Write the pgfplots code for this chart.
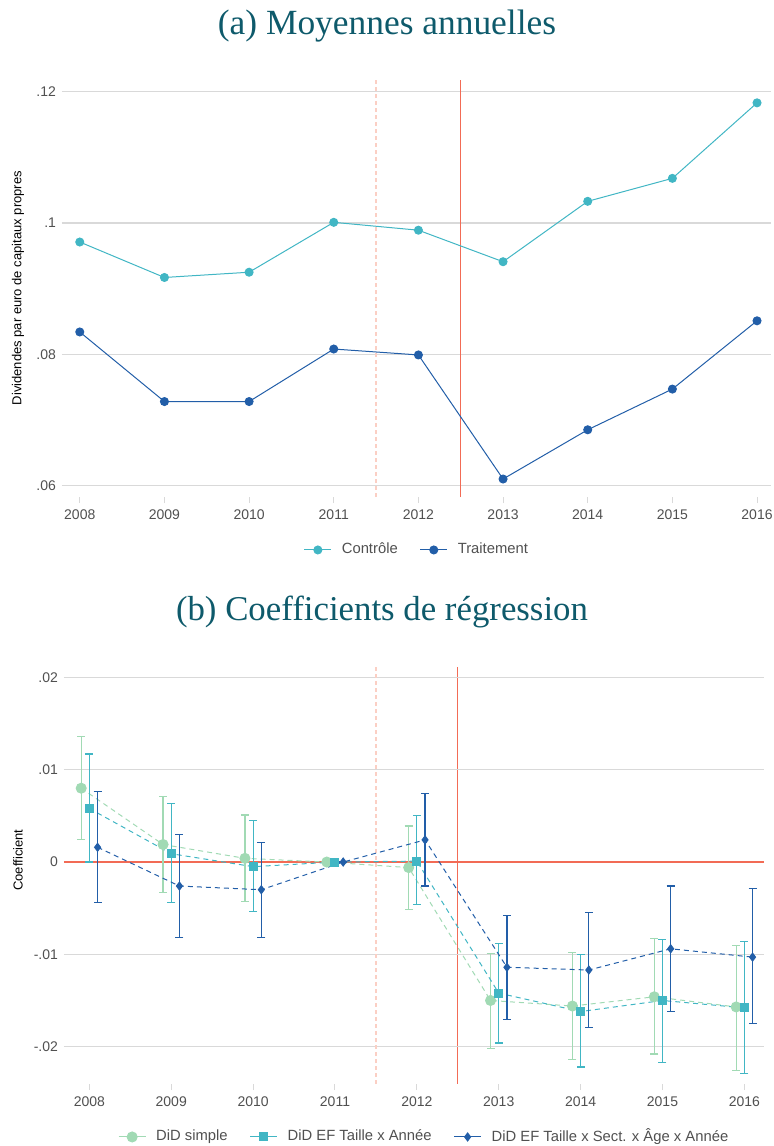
\documentclass[border=0pt]{standalone}
\usepackage{fontspec}
\setsansfont{Liberation Sans}
\newfontfamily\titlefont{Liberation Serif}
\usepackage{pgfplots}
\usepackage{pgfplotstable}
\pgfplotsset{compat=1.18}

\definecolor{ctrl}{HTML}{41B6C4}
\definecolor{treat}{HTML}{225EA8}
\definecolor{simple}{HTML}{A1DAB4}
\definecolor{ticklab}{HTML}{505050}
\definecolor{titlecol}{HTML}{0E5A6B}
\definecolor{vred}{HTML}{F26B55}
\definecolor{vredb}{HTML}{F36C56}
\definecolor{vpink}{HTML}{FBCFC4}
\definecolor{gridc}{HTML}{D9D9D9}

% panel (a): yearly means
\pgfplotstableread{
year ctrl treat
2008 0.0971 0.0834
2009 0.0917 0.0728
2010 0.0925 0.0728
2011 0.1001 0.0808
2012 0.0989 0.0799
2013 0.0941 0.0610
2014 0.1033 0.0685
2015 0.1068 0.0747
2016 0.1183 0.0851
}\topdata

% panel (b): coefficients, with confidence bounds
\pgfplotstableread{
x y hi lo
2007.9 0.0080 0.0136 0.0024
2008.9 0.0019 0.0071 -0.0033
2009.9 0.0004 0.0051 -0.0043
2010.9 0.0000 0.0000 0.0000
2011.9 -0.0006 0.0039 -0.0051
2012.9 -0.0150 -0.0099 -0.0202
2013.9 -0.0156 -0.0098 -0.0214
2014.9 -0.0146 -0.0083 -0.0208
2015.9 -0.0157 -0.0090 -0.0226
}\simpledata

\pgfplotstableread{
x y hi lo
2008 0.0058 0.0117 0.0000
2009 0.0009 0.0063 -0.0044
2010 -0.0005 0.0045 -0.0054
2011 0.0000 0.0000 0.0000
2012 0.0001 0.0050 -0.0046
2013 -0.0142 -0.0088 -0.0196
2014 -0.0162 -0.0100 -0.0222
2015 -0.0150 -0.0084 -0.0217
2016 -0.0158 -0.0086 -0.0229
}\tailledata

\pgfplotstableread{
x y hi lo
2008.1 0.0016 0.0076 -0.0044
2009.1 -0.0026 0.0030 -0.0082
2010.1 -0.0030 0.0021 -0.0082
2011.1 0.0000 0.0000 0.0000
2012.1 0.0024 0.0074 -0.0026
2013.1 -0.0114 -0.0058 -0.0171
2014.1 -0.0117 -0.0055 -0.0179
2015.1 -0.0094 -0.0026 -0.0162
2016.1 -0.0103 -0.0029 -0.0175
}\fulldata

\pgfplotsset{
  panel/.style={
    scale only axis,
    anchor=south west,
    axis x line*=bottom, axis y line*=left,
    axis line style={draw=none},
    ymajorgrids,
    grid style={gridc, line width=0.75pt},
    xtick={2008,2009,2010,2011,2012,2013,2014,2015,2016},
    xticklabels={2008,2009,2010,2011,2012,2013,2014,2015,2016},
    xtick style={gridc, line width=0.5pt},
    ytick style={draw=none},
    tick align=outside,
    major tick length=3pt,
    scaled y ticks=false,
    tick label style={font=\sffamily\fontsize{7}{8}\selectfont, text=ticklab},
    yticklabel style={xshift=3.5pt},
    ylabel style={font=\sffamily\fontsize{6.5}{8}\selectfont, anchor=center},
    legend style={draw=none, fill=none, anchor=center,
      font=\sffamily\fontsize{7.4}{8}\selectfont, text=ticklab,
      legend columns=-1,
      /tikz/every odd column/.append style={column sep=3pt},
      /tikz/every even column/.append style={column sep=9pt}},
    legend image code/.code={
      \draw[#1, solid, mark repeat=2, mark phase=2]
        plot coordinates {(0pt,0pt) (6.75pt,0pt) (13.5pt,0pt)};
    },
  },
  coef/.style={#1, line width=0.5pt, dash pattern=on 2.5pt off 2pt,
    mark options={solid},
    error bars/y dir=both, error bars/y explicit,
    error bars/error bar style={solid, line width=0.6pt},
    error bars/error mark options={solid, line width=0.6pt, mark size=2pt, rotate=90}},
}

\begin{document}
\begin{tikzpicture}
\useasboundingbox (0pt,0pt) rectangle (387pt,-573pt);

\node[font=\titlefont\fontsize{17.7}{21}\selectfont, text=titlecol] at (193.5pt,-13pt) {(a) Moyennes annuelles};
\node[font=\titlefont\fontsize{17.4}{21}\selectfont, text=titlecol] at (191pt,-306pt) {(b) Coefficients de régression};

% reform line of panel (b), at 2012.5, drawn as a thin filled strip
\fill[vredb] (228.65pt,-333.5pt) rectangle (229.15pt,-542pt);

\begin{axis}[panel,
  at={(31pt,-248.5pt)}, width=354.5pt, height=208.5pt,
  xmin=2007.79, xmax=2016.165, ymin=0.05826, ymax=0.12178,
  ytick={0.06,0.08,0.1,0.12}, yticklabels={.06,.08,.1,.12},
  ylabel={Dividendes par euro de capitaux propres},
  ylabel style={at={(axis description cs:-0.062,0.501)}},
  legend style={at={(axis description cs:0.502,-0.127)}},
]
\addplot[vpink, line width=0.75pt, dash pattern=on 2pt off 1.5pt, forget plot] coordinates {(2011.5,0.05826) (2011.5,0.12178)};
\addplot[vred, line width=0.5pt, forget plot] coordinates {(2012.5,0.05826) (2012.5,0.12178)};
\addplot[ctrl, line width=0.5pt, mark=*, mark size=2pt] table[x=year, y=ctrl] {\topdata};
\addlegendentry{Contrôle}
\addplot[treat, line width=0.5pt, mark=*, mark size=2pt] table[x=year, y=treat] {\topdata};
\addlegendentry{Traitement}
\end{axis}

\begin{axis}[panel,
  at={(32pt,-542pt)}, width=350pt, height=208.5pt,
  xmin=2007.69, xmax=2016.24, ymin=-0.02405, ymax=0.02113,
  ytick={-0.02,-0.01,0,0.01,0.02}, yticklabels={-.02,-.01,0,.01,.02},
  ylabel={Coefficient},
  ylabel style={at={(axis description cs:-0.0657,0.537)}},
  legend style={at={(axis description cs:0.516,-0.127)}},
]
\addplot[vpink, line width=0.75pt, dash pattern=on 2pt off 1.5pt, forget plot] coordinates {(2011.5,-0.02405) (2011.5,0.02113)};
\addplot[vred, line width=1pt, forget plot] coordinates {(2007.69,0) (2016.24,0)};

\addplot[coef={simple}, mark=*, mark size=2.5pt]
  table[x=x, y=y, y error plus expr=\thisrow{hi}-\thisrow{y}, y error minus expr=\thisrow{y}-\thisrow{lo}] {\simpledata};
\addlegendentry{DiD simple}
\addplot[coef={ctrl}, mark=square*, mark size=2pt]
  table[x=x, y=y, y error plus expr=\thisrow{hi}-\thisrow{y}, y error minus expr=\thisrow{y}-\thisrow{lo}] {\tailledata};
\addlegendentry{DiD EF Taille x Année}
\addplot[coef={treat}, mark=diamond*, mark size=2pt]
  table[x=x, y=y, y error plus expr=\thisrow{hi}-\thisrow{y}, y error minus expr=\thisrow{y}-\thisrow{lo}] {\fulldata};
\addlegendentry{DiD EF Taille x Sect. x Âge x Année}
\end{axis}
\end{tikzpicture}
\end{document}
